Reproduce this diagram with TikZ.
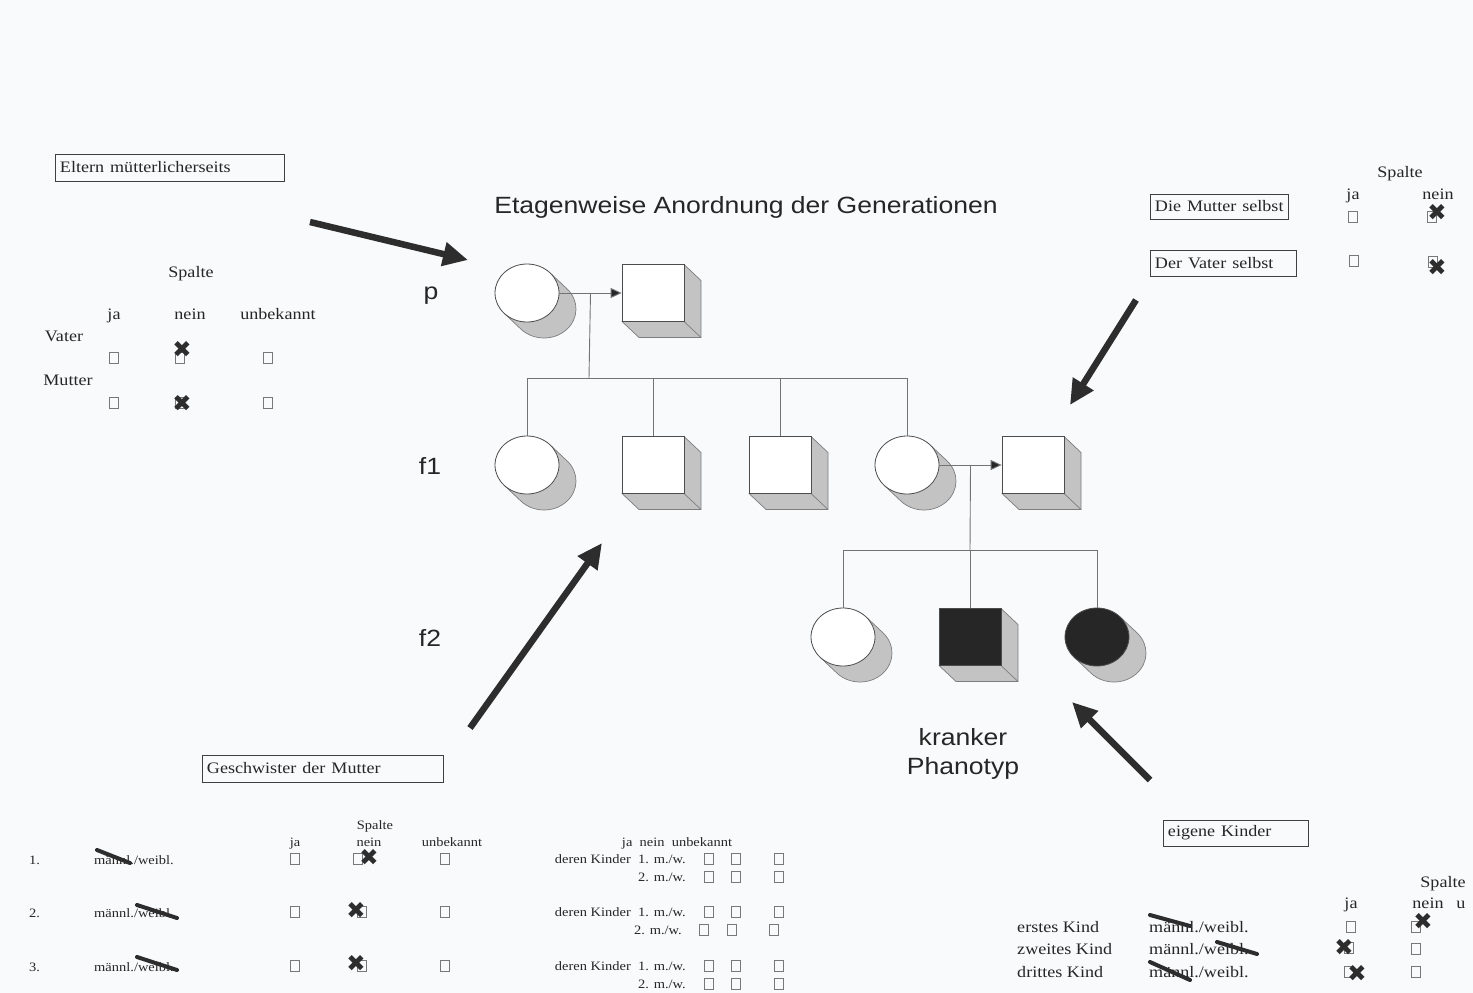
\documentclass[tikz,border=0pt]{standalone}
\usepackage{fontspec}
\setmainfont{Liberation Serif}
\newfontfamily\arialf{Liberation Sans}
\newfontfamily\djv{DejaVu Sans}
\usetikzlibrary{arrows.meta,shapes.geometric,calc}
\definecolor{bgc}{RGB}{249,250,252}
\definecolor{ink}{RGB}{45,45,45}
\definecolor{shfill}{RGB}{195,195,195}
\definecolor{shline}{RGB}{125,125,125}
\definecolor{dark}{RGB}{38,38,38}
\definecolor{cbc}{RGB}{120,120,120}
\newcommand\pedcirc[4]{%
 \fill[shfill] (#2,#3) ++(-44:32 and 29) -- ++(17,16) arc[start angle=-44,end angle=136,x radius=32,y radius=29] -- ++(-17,-16) arc[start angle=136,end angle=-44,x radius=32,y radius=29] -- cycle;
 \draw[shline,line width=0.7pt] (#2,#3) ++(-44:32 and 29) -- ++(17,16) arc[start angle=-44,end angle=136,x radius=32,y radius=29] -- ++(-17,-16);
 \node[pedc,fill=#4] (#1) at (#2,#3) {};}
\newcommand\pedsq[4]{%
 \filldraw[fill=shfill,draw=shline,line width=0.7pt] (#2+31,#3-28.5) -- ++(17,16) -- ++(0,57) -- ++(-62,0) -- ++(-17,-16) -- cycle;
 \draw[shline,line width=0.7pt] (#2+31,#3+28.5) -- ++(17,16);
 \node[peds,fill=#4] (#1) at (#2,#3) {};}
\tikzset{
 pedc/.style={ellipse, draw=black!70, line width=0.8pt, minimum width=64pt, minimum height=58pt, inner sep=0pt},
 peds/.style={rectangle, draw=black!70, line width=0.8pt, minimum width=62pt, minimum height=57pt, inner sep=0pt},
 conn/.style={draw=black!55, line width=0.9pt},
 connarr/.style={conn, -{Triangle[length=11pt,width=10pt,fill=dark]}},
 bigarrow/.style={draw=ink, line width=6.5pt, -{Triangle[length=25pt,width=23pt]}},
 sans/.style={font=\arialf\fontsize{23.5}{26}\selectfont, xscale=1.13, inner sep=0pt, text=black!85},
 ser/.style={font=\fontsize{16}{18}\selectfont, xscale=1.13, inner sep=0pt, text=black!85},
 sm/.style={font=\fontsize{12.8}{14}\selectfont, xscale=1.13, inner sep=0pt, text=black!85},
 boxt/.style={ser, draw=black!75, line width=0.8pt, anchor=west, inner xsep=4pt, inner ysep=2pt, align=left},
 cbx/.style={draw=cbc, line width=0.6pt, minimum width=9pt, minimum height=11pt, inner sep=0pt},
 xm/.style={font=\djv\fontsize{23}{23}\selectfont, text=ink, inner sep=0pt},
 strk/.style={draw=ink, line width=4pt, line cap=round}
}
\begin{document}
\begin{tikzpicture}[x=1pt,y=-1pt]
\useasboundingbox (0,0) rectangle (1473,993);
\fill[bgc] (0,0) rectangle (1473,993);

% title and labels
\node[sans, anchor=base] (title) at (746,213) {Etagenweise Anordnung der Generationen};
\node[sans, anchor=base] (lp) at (431,299) {p};
\node[sans, anchor=base] (lf1) at (430,474) {f1};
\node[sans, anchor=base] (lf2) at (430,646) {f2};
\node[sans, anchor=base] (kr1) at (963,745) {kranker};
\node[sans, anchor=base] (kr2) at (963,774) {Phanotyp};

% pedigree: generation p
\pedcirc{pm}{527}{293}{white}
\pedsq{pf}{653}{293}{white}
% generation f1
\pedcirc{c1}{527}{465}{white}
\pedsq{c2}{653}{465}{white}
\pedsq{c3}{780}{465}{white}
\pedcirc{c4}{907}{465}{white}
\pedsq{sp}{1033}{465}{white}
% generation f2
\pedcirc{g1}{843}{637}{white}
\pedsq{g2}{970}{637}{dark}
\pedcirc{g3}{1097}{637}{dark}

\draw[connarr] (pm.east) -- (pf.west);
\coordinate (pmid) at ($(pm.east)!0.5!(pf.west)$);
\coordinate (bar1) at (589,378);
\draw[conn] (pmid) -- (bar1);
\draw[conn] (c1.north |- bar1) -- (c4.north |- bar1);
\foreach \n in {c1,c2,c3,c4} \draw[conn] (\n.north |- bar1) -- (\n.north);

\draw[connarr] (c4.east) -- (sp.west);
\coordinate (fmid) at ($(c4.east)!0.5!(sp.west)$);
\coordinate (bar2) at (970,550);
\draw[conn] (fmid) -- (bar2);
\draw[conn] (g1.north |- bar2) -- (g3.north |- bar2);
\foreach \n in {g1,g2,g3} \draw[conn] (\n.north |- bar2) -- (\n.north);

% big arrows
\coordinate (a1s) at (310,222); \coordinate (a1e) at (468,260);
\coordinate (a2s) at (1136,300); \coordinate (a2e) at (1070,405);
\coordinate (a3s) at (470,728); \coordinate (a3e) at (602,543);
\coordinate (a4s) at (1150,780); \coordinate (a4e) at (1072,702);
\draw[bigarrow] (a1s) -- (a1e);
\draw[bigarrow] (a2s) -- (a2e);
\draw[bigarrow] (a3s) -- (a3e);
\draw[bigarrow] (a4s) -- (a4e);

% boxes
\node[boxt, text width=195pt, minimum height=27pt] (b1) at (55,167.5) {Eltern mütterlicherseits};
\node[boxt, text width=114pt, minimum height=25pt] (b2) at (1150,206.5) {Die Mutter selbst};
\node[boxt, text width=121pt, minimum height=26pt] (b3) at (1150,263) {Der Vater selbst};
\node[boxt, text width=205pt, minimum height=27pt] (b4) at (202,768.5) {Geschwister der Mutter};
\node[boxt, text width=120pt, minimum height=26pt] (b5) at (1163,833) {eigene Kinder};

% top-left table
\node[ser, anchor=base] (tlsp) at (191,277) {Spalte};
\node[ser, anchor=base] (tlja) at (114,319) {ja};
\node[ser, anchor=base] (tlne) at (190,319) {nein};
\node[ser, anchor=base] (tlun) at (278,319) {unbekannt};
\node[ser, anchor=base] (tlva) at (64,341) {Vater};
\node[ser, anchor=base] (tlmu) at (68,385) {Mutter};
\node[cbx] (q1) at (114,358) {};
\node[cbx] (q2) at (180,358) {};
\node[cbx] (q3) at (268,358) {};
\node[cbx] (q4) at (114,403) {};
\node[cbx] (q5) at (180,403) {};
\node[cbx] (q6) at (268,403) {};
\node[xm] (x1) at (182,349) {✖};
\node[xm] (x2) at (182,403) {✖};

% top-right table
\node[ser, anchor=base] (trsp) at (1400,177) {Spalte};
\node[ser, anchor=base] (trja) at (1353,199) {ja};
\node[ser, anchor=base] (trne) at (1438,199) {nein};
\node[cbx] (r1) at (1353,217) {};
\node[cbx] (r2) at (1432,217) {};
\node[cbx] (r3) at (1354,261) {};
\node[cbx] (r4) at (1433,262) {};
\node[xm] (x3) at (1437,212) {✖};
\node[xm] (x4) at (1437,267) {✖};

% bottom-left table
\node[sm, anchor=base] (blsp) at (375,829) {Spalte};
\node[sm, anchor=base] (blja) at (295,846) {ja};
\node[sm, anchor=base] (blne) at (369,846) {nein};
\node[sm, anchor=base] (blun) at (452,846) {unbekannt};
\node[sm, anchor=base west] (n1) at (29,864) {1.};
\node[sm, anchor=base west] (n2) at (29,917) {2.};
\node[sm, anchor=base west] (n3) at (29,971) {3.};
\node[sm, anchor=base west] (s1) at (94,864) {männl./weibl.};
\node[sm, anchor=base west] (s2) at (94,917) {männl./weibl.};
\node[sm, anchor=base west] (s3) at (94,971) {männl./weibl.};
\node[cbx] (u1) at (295,859) {};
\node[cbx] (u2) at (358,859) {};
\node[cbx] (u3) at (445,859) {};
\node[cbx] (u4) at (295,912) {};
\node[cbx] (u5) at (362,912) {};
\node[cbx] (u6) at (445,912) {};
\node[cbx] (u7) at (295,966) {};
\node[cbx] (u8) at (362,966) {};
\node[cbx] (u9) at (445,966) {};
\node[xm] (x5) at (369,857) {✖};
\node[xm] (x6) at (356,910) {✖};
\node[xm] (x7) at (356,963) {✖};
\draw[strk] (97,850) -- (130,863);
\draw[strk] (137,905) -- (177,918);
\draw[strk] (137,957) -- (177,970);

% middle table
\node[sm, anchor=base] (mh) at (677,846) {ja\ \ nein\ \ unbekannt};
\node[sm, anchor=base east] (m1) at (686,863) {deren Kinder\ \ 1. m./w.};
\node[sm, anchor=base east] (m2) at (686,881) {2. m./w.};
\node[sm, anchor=base east] (m3) at (686,916) {deren Kinder\ \ 1. m./w.};
\node[sm, anchor=base east] (m4) at (682,934) {2. m./w.};
\node[sm, anchor=base east] (m5) at (686,970) {deren Kinder\ \ 1. m./w.};
\node[sm, anchor=base east] (m6) at (686,988) {2. m./w.};
\foreach \y [count=\i] in {859,877,912,966,984} {
  \node[cbx] (ma\i) at (709,\y) {};
  \node[cbx] (mb\i) at (736,\y) {};
  \node[cbx] (mc\i) at (779,\y) {};
}
\node[cbx] (md1) at (704,930) {};
\node[cbx] (md2) at (732,930) {};
\node[cbx] (md3) at (774,930) {};

% bottom-right table
\node[ser, anchor=base] (brsp) at (1443,887) {Spalte};
\node[ser, anchor=base] (brja) at (1351,908) {ja};
\node[ser, anchor=base] (brne) at (1428,908) {nein};
\node[ser, anchor=base] (bru) at (1461,908) {u};
\node[ser, anchor=base west] (k1) at (1017,932) {erstes Kind};
\node[ser, anchor=base west] (k2) at (1017,954) {zweites Kind};
\node[ser, anchor=base west] (k3) at (1017,977) {drittes Kind};
\node[ser, anchor=base west] (t1) at (1149,932) {männl./weibl.};
\node[ser, anchor=base west] (t2) at (1149,954) {männl./weibl.};
\node[ser, anchor=base west] (t3) at (1149,977) {männl./weibl.};
\node[cbx] (v1) at (1351,927) {};
\node[cbx] (v2) at (1416,927) {};
\node[cbx] (v3) at (1349,948) {};
\node[cbx] (v4) at (1416,949) {};
\node[cbx] (v5) at (1349,972) {};
\node[cbx] (v6) at (1416,972) {};
\node[xm] (x8) at (1423,921) {✖};
\node[xm] (x9) at (1344,947) {✖};
\node[xm] (x10) at (1357,973) {✖};
\draw[strk] (1150,915) -- (1190,926);
\draw[strk] (1217,942) -- (1257,954);
\draw[strk] (1150,962) -- (1190,980);
\end{tikzpicture}
\end{document}
